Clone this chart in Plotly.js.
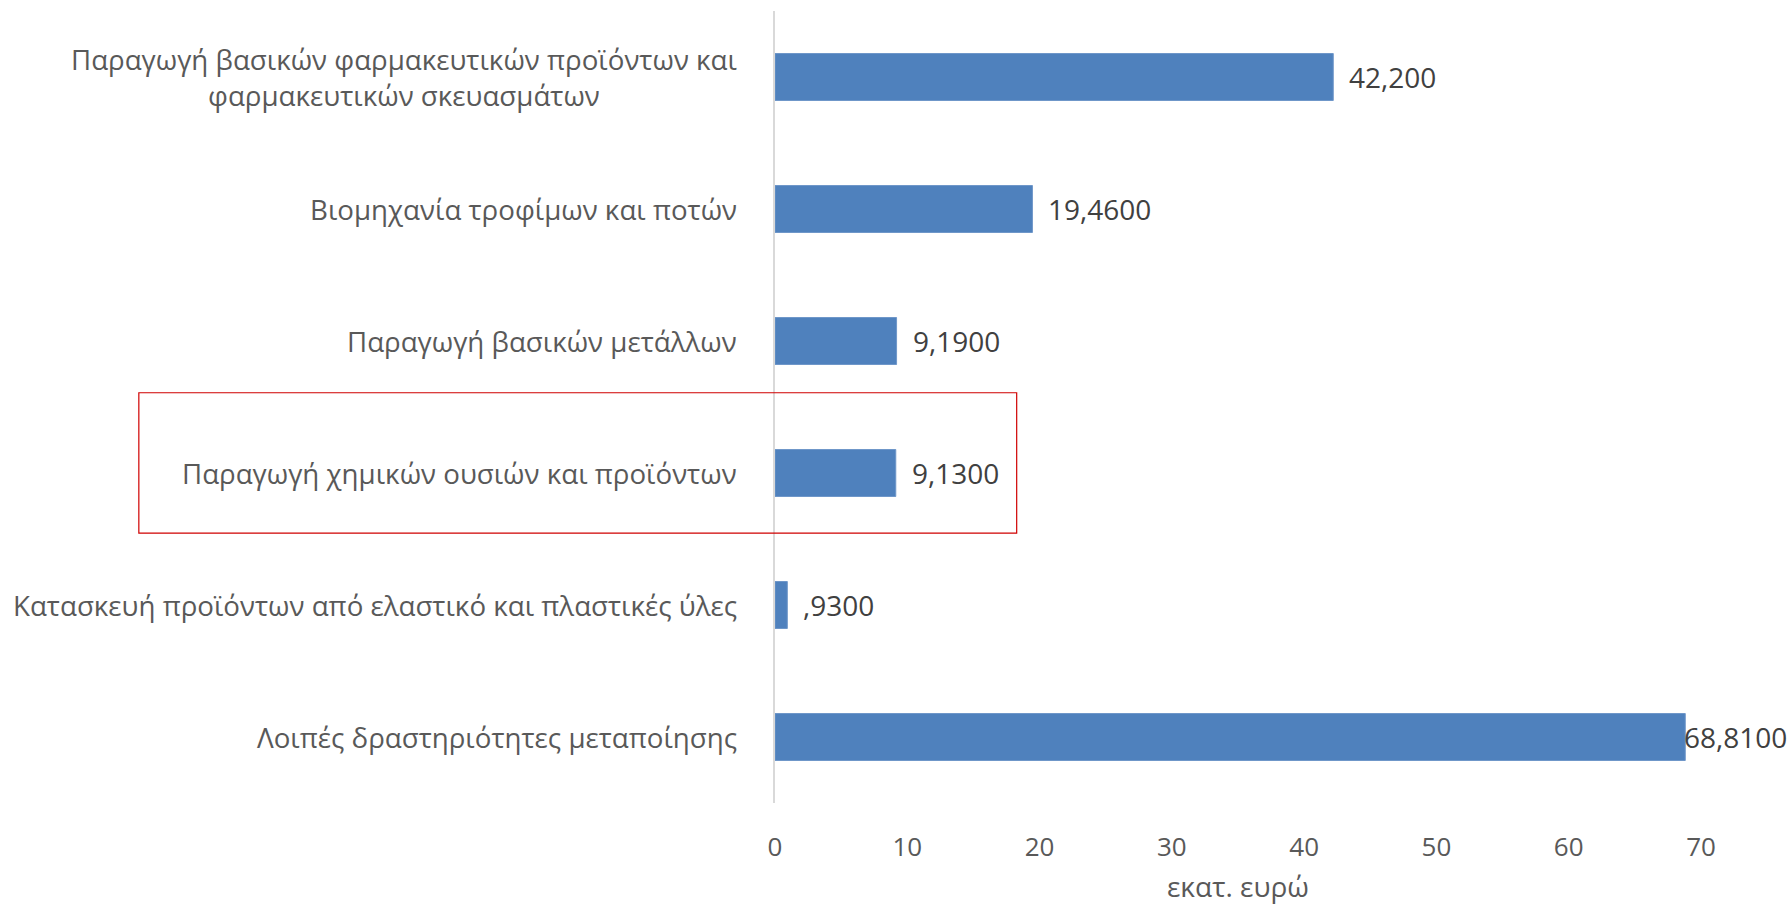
<!DOCTYPE html>
<html>
<head>
<meta charset="utf-8">
<script src="https://cdn.plot.ly/plotly-3.0.1.min.js"></script>
<style>html,body{margin:0;padding:0;background:#fff;}#chart{width:1789px;height:905px;}</style>
</head>
<body>
<div id="chart"></div>
<script>
const categories = [
  "Παραγωγή βασικών φαρμακευτικών προϊόντων και<br>φαρμακευτικών σκευασμάτων",
  "Βιομηχανία τροφίμων και ποτών",
  "Παραγωγή βασικών μετάλλων",
  "Παραγωγή χημικών ουσιών και προϊόντων",
  "Κατασκευή προϊόντων από ελαστικό και πλαστικές ύλες",
  "Λοιπές δραστηριότητες μεταποίησης"
];
const values = [42.2, 19.46, 9.19, 9.13, 0.93, 68.81];
const valueLabels = ["42,200", "19,4600", "9,1900", "9,1300", ",9300", "68,8100"];
const xTicks = [0, 10, 20, 30, 40, 50, 60, 70];
const xTitle = "εκατ. ευρώ";
const highlighted = "Παραγωγή χημικών ουσιών και προϊόντων";

const FONT = "'Open Sans', 'Noto Sans', 'DejaVu Sans', sans-serif";

const trace = {
  type: 'bar',
  orientation: 'h',
  x: values,
  y: categories,
  width: 0.356,
  marker: {color: '#4f81bd', line: {color: '#6f97c9', width: 1}},
  hoverinfo: 'skip'
};

const annotations = [];
categories.forEach((c, i) => {
  annotations.push({
    xref: 'paper', yref: 'y', x: 0, y: c, xanchor: 'right', yanchor: 'middle',
    xshift: -36, align: 'center', showarrow: false, text: c,
    font: {family: FONT, size: 27.7, color: '#595959'}
  });
  const nearEnd = values[i] > 65;
  annotations.push({
    xref: 'x', yref: 'y', x: values[i], y: c, xanchor: 'left', yanchor: 'middle',
    xshift: nearEnd ? -3 : 14, showarrow: false, text: valueLabels[i],
    font: {family: FONT, size: 28, color: '#404040'}
  });
});

const layout = {
  width: 1789, height: 905,
  margin: {l: 775, r: 88, t: 11, b: 102, pad: 0},
  paper_bgcolor: '#ffffff', plot_bgcolor: '#ffffff',
  showlegend: false,
  bargap: 0.644,
  xaxis: {
    range: [0, 70], tickvals: xTicks, ticktext: xTicks.map(String),
    showgrid: false, zeroline: false, showline: false, ticks: '',
    ticklabelstandoff: 26,
    tickfont: {family: FONT, size: 26, color: '#595959'},
    title: {text: xTitle, standoff: 16, font: {family: FONT, size: 28, color: '#595959'}},
    fixedrange: true
  },
  yaxis: {
    type: 'category', categoryorder: 'array', categoryarray: categories,
    range: [categories.length - 0.5, -0.5],
    showticklabels: false, showgrid: false, zeroline: false,
    showline: true, linecolor: '#d9d9d9', linewidth: 2, ticks: '',
    fixedrange: true
  },
  annotations: annotations,
  shapes: [{
    type: 'rect', xref: 'paper', yref: 'paper',
    x0: -0.687, x1: 0.261, y0: 0.3407, y1: 0.518,
    line: {color: '#d00000', width: 1.2}, fillcolor: 'rgba(0,0,0,0)'
  }]
};

Plotly.newPlot('chart', [trace], layout, {displayModeBar: false, staticPlot: true});
</script>
</body>
</html>
